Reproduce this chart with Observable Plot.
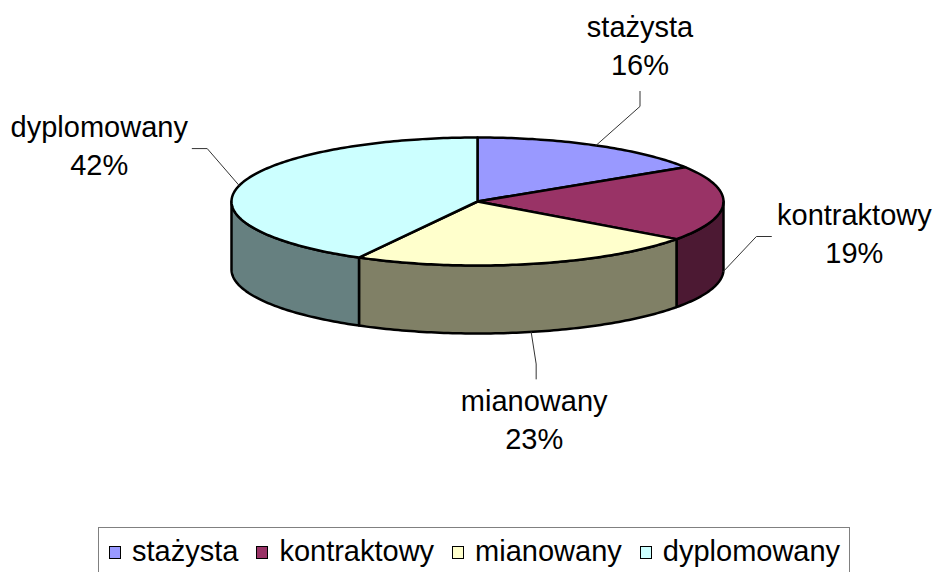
<!DOCTYPE html>
<html><head><meta charset="utf-8">
<script src="https://cdn.jsdelivr.net/npm/d3@7"></script>
<script src="https://cdn.jsdelivr.net/npm/@observablehq/plot@0.6"></script>
<style>
body{margin:0;background:#fff;font-family:"Liberation Sans",Arial,sans-serif;overflow:hidden;width:934px;height:572px;position:relative}
#chart{position:absolute;left:0;top:0}
#legend{position:absolute;left:98px;top:527px;width:752px;height:60px;border:1px solid #808080;box-sizing:border-box;display:flex;align-items:flex-start;padding:9px 0 0 10px;font-size:29px;line-height:28px;color:#000}
.item{display:flex;align-items:center;margin-right:18px;white-space:nowrap}
.sw{width:10px;height:11px;border:1px solid #000;margin-right:11px;margin-top:3px}
</style></head><body><div id="chart"></div><div id="legend"></div>
<script>
const categories = ["stażysta", "kontraktowy", "mianowany", "dyplomowany"];
const values = [16, 19, 23, 42];
const topColors = ["#9999FF", "#993366", "#FFFFCC", "#CCFFFF"];
const sideColors = ["#4C4C80", "#4C1933", "#808066", "#668080"];

// layout
const W = 934, H = 527;
const cx = 477, cy = 201, rx = 246, ry = 64, depth = 68;
const leaderElbow = [[44, -39], [33, -35], [5, 32], [-32, -37]];
const leaderEnd = [[44, -54], [48, -35], [5, 47], [-47, -37]];
const textPos = [[44, -70], [131, -9], [3, 117], [-140, -11]];

const total = d3.sum(values);
const pt = (deg, dy = 0) => {
  const r = deg * Math.PI / 180;
  return {x: cx + rx * Math.sin(r), y: cy - ry * Math.cos(r) + dy};
};
const arc = (a0, a1, dy = 0) => {
  const pts = [];
  const n = Math.max(2, Math.ceil(Math.abs(a1 - a0)));
  for (let i = 0; i <= n; i++) pts.push(pt(a0 + (a1 - a0) * i / n, dy));
  return pts;
};

let acc = 0;
const slices = values.map((v, i) => {
  const a0 = acc / total * 360;
  acc += v;
  const a1 = acc / total * 360;
  return {i, a0, a1, mid: (a0 + a1) / 2};
});

const marks = [];
// side walls (front half only)
for (const s of slices) {
  const b0 = Math.max(s.a0, 90), b1 = Math.min(s.a1, 270);
  if (b1 <= b0) continue;
  const poly = [...arc(b0, b1, 0), ...arc(b1, b0, depth)];
  marks.push(Plot.line(poly, {x: "x", y: "y", curve: "linear-closed", fill: sideColors[s.i], stroke: "#000", strokeWidth: 2.5, strokeLinejoin: "round"}));
}
// top faces
for (const s of slices) {
  const poly = [{x: cx, y: cy}, ...arc(s.a0, s.a1, 0)];
  marks.push(Plot.line(poly, {x: "x", y: "y", curve: "linear-closed", fill: topColors[s.i], stroke: "#000", strokeWidth: 2.5, strokeLinejoin: "round"}));
}
// leader lines + labels
const labels = slices.map(s => {
  const m = s.mid;
  const front = m > 90 && m < 270;
  const a = pt(m, front ? depth : 0);
  return {
    s, anchor: a,
    text: `${categories[s.i]}\n${Math.round(values[s.i] / total * 100)}%`,
    tx: a.x + textPos[s.i][0], ty: a.y + textPos[s.i][1]
  };
});
for (const l of labels) {
  const i = l.s.i, a = l.anchor;
  const poly = [a, {x: a.x + leaderElbow[i][0], y: a.y + leaderElbow[i][1]}, {x: a.x + leaderEnd[i][0], y: a.y + leaderEnd[i][1]}];
  marks.push(Plot.line(poly, {x: "x", y: "y", stroke: "#333", strokeWidth: 1}));
}
marks.push(Plot.text(labels, {x: "tx", y: "ty", text: "text", lineAnchor: "bottom", lineHeight: 1.31, fontSize: 29, fill: "#000", textAnchor: "middle", fontFamily: "Liberation Sans, Arial, sans-serif"}));

const chart = Plot.plot({
  width: W, height: H,
  margin: 0,
  x: {domain: [0, W], range: [0, W], axis: null},
  y: {domain: [0, H], range: [0, H], axis: null},
  style: {background: "#fff", fontFamily: "Liberation Sans, Arial, sans-serif"},
  marks
});
document.getElementById("chart").appendChild(chart);

const legend = document.getElementById("legend");
categories.forEach((c, i) => {
  const it = document.createElement("div");
  it.className = "item";
  const sw = document.createElement("span");
  sw.className = "sw";
  sw.style.background = topColors[i];
  const t = document.createElement("span");
  t.textContent = c;
  it.appendChild(sw); it.appendChild(t);
  legend.appendChild(it);
});
</script>
</body></html>
